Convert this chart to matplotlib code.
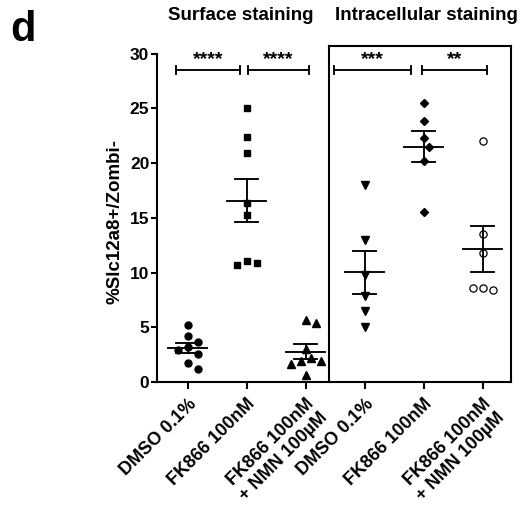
import numpy as np
import matplotlib
matplotlib.use("Agg")
import matplotlib.pyplot as plt

plt.rcParams['font.family'] = ['Liberation Sans', 'DejaVu Sans']
plt.rcParams['font.weight'] = 'bold'

# ---------------- data ----------------
categories = ["DMSO 0.1%", "FK866 100nM", "FK866 100nM\n+ NMN 100µM",
              "DMSO 0.1%", "FK866 100nM", "FK866 100nM\n+ NMN 100µM"]
surface_dmso = [5.25, 4.2, 3.7, 3.2, 2.9, 2.6, 1.75, 1.15]
surface_fk866 = [25.0, 22.4, 20.9, 16.4, 15.3, 11.1, 10.9, 10.7]
surface_fk866_nmn = [5.7, 5.4, 3.0, 2.15, 1.9, 1.9, 1.6, 0.6]
intra_dmso = [18.0, 13.0, 9.8, 7.9, 6.5, 5.0]
intra_fk866 = [25.5, 23.9, 22.3, 21.5, 20.2, 15.5]
intra_fk866_nmn = [22.0, 13.5, 11.8, 8.6, 8.45, 8.6]
yticks = [0, 5, 10, 15, 20, 25, 30]
ylabel = "%Slc12a8+/Zombi-"
titles = ["Surface staining", "Intracellular staining"]
sig_labels = ["****", "****", "***", "**"]

groups = [surface_dmso, surface_fk866, surface_fk866_nmn,
          intra_dmso, intra_fk866, intra_fk866_nmn]

# ---------------- style ----------------
styles = [
    dict(marker='o', ms=5.0, mfc='black', mec='black'),
    dict(marker='s', ms=5.0, mfc='black', mec='black'),
    dict(marker='^', ms=5.2, mfc='black', mec='black'),
    dict(marker='v', ms=5.2, mfc='black', mec='black'),
    dict(marker='D', ms=3.8, mfc='black', mec='black'),
    dict(marker='o', ms=5.2, mfc='white', mec='black', mew=0.9),
]

W, H = 522, 513
fig = plt.figure(figsize=(W / 100, H / 100), dpi=100)
ax_left, ax_right, ax_bottom, ax_top = 157, 511, 382, 46
ax = fig.add_axes([ax_left / W, 1 - ax_bottom / H,
                   (ax_right - ax_left) / W, (ax_bottom - ax_top) / H])
xlim = (-0.52, 5.48)
ylim = (0, 30.71)
ax.set_xlim(*xlim)
ax.set_ylim(*ylim)

ppu_x = (ax_right - ax_left) / (xlim[1] - xlim[0])
ppu_y = (ax_bottom - ax_top) / (ylim[1] - ylim[0])


def swarm_offsets(vals, d_px=10.0, step_px=5.0):
    placed = []
    offs = []
    for v in vals:
        y = v * ppu_y
        cands = [0]
        for i in range(1, 20):
            cands += [i * step_px, -i * step_px]
        for c in cands:
            ok = all((c - px) ** 2 + (y - py) ** 2 >= d_px ** 2 for px, py in placed)
            if ok:
                placed.append((c, y))
                offs.append(c / ppu_x)
                break
    return np.array(offs)


lw = 1.35
for i, (vals, st) in enumerate(zip(groups, styles)):
    vals = np.asarray(vals, dtype=float)
    xo = swarm_offsets(vals)
    ax.plot(i + xo, vals, linestyle='none', zorder=3, clip_on=False, **st)
    m = vals.mean()
    sem = vals.std(ddof=1) / np.sqrt(len(vals))
    ax.plot([i - 0.33, i + 0.33], [m, m], color='black', lw=lw, zorder=4)
    ax.plot([i, i], [m - sem, m + sem], color='black', lw=lw, zorder=4)
    for yy in (m - sem, m + sem):
        ax.plot([i - 0.19, i + 0.19], [yy, yy], color='black', lw=lw, zorder=4)

# significance bars (extent in category units)
sig_spans = [(-0.19, 0.89), (1.02, 2.06), (2.48, 3.79), (3.97, 5.07)]
sig_y = 28.5
for (x0, x1), lab in zip(sig_spans, sig_labels):
    ax.plot([x0, x1], [sig_y, sig_y], color='black', lw=lw, clip_on=False)
    for xx in (x0, x1):
        ax.plot([xx, xx], [sig_y - 0.35, sig_y + 0.35], color='black', lw=lw,
                clip_on=False)
    ax.text((x0 + x1) / 2, sig_y + 1.0, lab, ha='center', va='center',
            fontsize=14, fontweight='bold')

# box around intracellular
box_x = 2.395
ax.plot([box_x, box_x], [0, ylim[1]], color='black', lw=1.5, clip_on=False)
ax.plot([box_x, xlim[1]], [ylim[1], ylim[1]], color='black', lw=1.5,
        clip_on=False)

# spines
ax.spines['top'].set_visible(False)
for s in ['left', 'bottom', 'right']:
    ax.spines[s].set_linewidth(1.5)
ax.spines['left'].set_bounds(0, 30)

ax.set_yticks(yticks)
ax.set_yticklabels([str(t) for t in yticks], fontsize=12.5, fontweight='bold')
ax.tick_params(axis='y', length=4, width=1.5, pad=1.5)
ax.set_xticks(range(len(categories)))
ax.set_xticklabels(categories, rotation=45, ha='right', va='top',
                   rotation_mode='anchor', fontsize=13, fontweight='bold',
                   multialignment='right', linespacing=1.15)
ax.tick_params(axis='x', length=5, width=1.5, pad=4.5)

fig.text(115 / W, 1 - 222 / H, ylabel, rotation=90, ha='center', va='center',
         fontsize=13.5, fontweight='bold')
fig.text(241 / W, 1 - 16 / H, titles[0], ha='center', va='center',
         fontsize=13.5, fontweight='bold')
fig.text(426 / W, 1 - 16 / H, titles[1], ha='center', va='center',
         fontsize=13.5, fontweight='bold')
fig.text(10 / W, 1 - 10 / H, "d", ha='left', va='top', fontsize=30,
         fontweight='bold')

fig.savefig("out.png", dpi=100)
